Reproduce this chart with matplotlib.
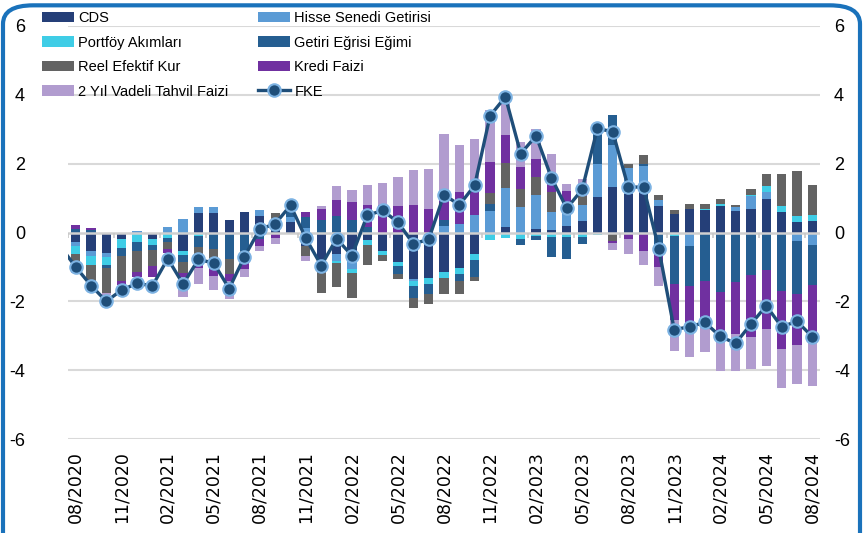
import numpy as np
import matplotlib.pyplot as plt
from matplotlib.patches import FancyBboxPatch

# aylar: 08/2020 - 08/2024
months = ['08/2020', '09/2020', '10/2020', '11/2020', '12/2020', '01/2021', '02/2021', '03/2021',
          '04/2021', '05/2021', '06/2021', '07/2021', '08/2021', '09/2021', '10/2021', '11/2021',
          '12/2021', '01/2022', '02/2022', '03/2022', '04/2022', '05/2022', '06/2022', '07/2022',
          '08/2022', '09/2022', '10/2022', '11/2022', '12/2022', '01/2023', '02/2023', '03/2023',
          '04/2023', '05/2023', '06/2023', '07/2023', '08/2023', '09/2023', '10/2023', '11/2023',
          '12/2023', '01/2024', '02/2024', '03/2024', '04/2024', '05/2024', '06/2024', '07/2024',
          '08/2024']

cds = [-0.28, -0.55, -0.6, -0.2, 0.0, -0.2, 0.0, -0.53, 0.56, 0.56, 0.35, 0.6, 0.48, 0.4, 0.3, -0.38,
       -0.82, -0.62, -0.72, -0.21, -0.54, -0.86, -1.35, -1.32, -1.16, -1.03, -0.62, 0.0, 0.16, 0.0, 0.09, 0.06,
       0.2, 0.32, 1.03, 1.32, 1.13, 1.32, 0.76, 0.54, 0.68, 0.64, 0.78, 0.62, 0.69, 0.98, 0.59, 0.3, 0.33]
hisse = [-0.1, -0.12, -0.1, 0.0, 0.05, 0.0, 0.17, 0.4, 0.17, 0.17, 0.0, 0.0, 0.17, 0.0, 0.15, 0.14,
         0.0, -0.2, -0.35, 0.0, 0.0, 0.0, -0.07, 0.0, 0.2, 0.25, 0.5, 0.63, 1.12, 0.74, 1.01, 0.55,
         0.55, 0.47, 0.97, 1.21, 0.75, 0.61, 0.17, 0.0, -0.38, 0.0, 0.0, 0.12, 0.36, 0.21, 0.0, -0.25, -0.35]
portfoy = [-0.25, -0.27, -0.25, -0.25, -0.28, -0.17, -0.17, -0.12, -0.1, -0.03, -0.04, 0.0, 0.0, 0.0, 0.0, 0.0,
           -0.08, -0.08, -0.1, -0.14, -0.1, -0.12, -0.13, -0.17, -0.17, -0.17, -0.17, -0.21, -0.16, -0.2, -0.1, -0.14,
           -0.14, -0.13, -0.08, 0.0, 0.0, 0.0, -0.05, -0.1, 0.0, 0.03, 0.04, 0.0, 0.03, 0.15, 0.17, 0.17, 0.17]
getiri = [0.1, 0.07, -0.07, -0.22, -0.26, -0.15, -0.12, -0.2, -0.32, -0.45, -0.72, -0.55, -0.2, 0.0, 0.15, 0.31,
          0.35, 0.47, 0.35, 0.16, 0.0, -0.22, -0.36, -0.29, 0.15, -0.2, -0.51, 0.2, 0.0, -0.17, -0.12, -0.58,
          -0.62, -0.2, 1.02, 0.87, 0.0, 0.07, -0.5, -1.4, -1.16, -1.42, -1.72, -1.45, -1.23, -1.09, -1.71, -1.55, -1.17]
reel = [-0.35, -0.55, -0.75, -0.73, -0.6, -0.45, -0.2, -0.32, -0.3, -0.33, -0.45, -0.3, 0.0, 0.18, 0.15, -0.29,
        -0.85, -0.68, -0.73, -0.58, -0.2, -0.15, -0.27, -0.29, -0.47, -0.39, -0.12, 0.32, 0.73, 0.53, 0.5, 0.58,
        0.0, 0.27, 0.0, -0.25, 0.1, 0.24, 0.17, 0.1, 0.15, 0.17, 0.14, 0.05, 0.17, 0.37, 0.94, 1.31, 0.89]
kredi = [0.12, 0.05, 0.0, -0.12, -0.15, -0.32, -0.1, -0.12, -0.3, -0.45, -0.2, -0.2, -0.2, -0.15, 0.0, 0.15,
         0.32, 0.46, 0.53, 0.63, 0.79, 0.76, 0.79, 0.69, 0.58, 0.92, 0.73, 0.89, 0.83, 0.63, 0.53, 0.27,
         0.45, 0.23, 0.0, -0.05, -0.2, -0.55, -0.45, -1.05, -1.2, -1.34, -1.14, -1.5, -1.82, -1.72, -1.68, -1.46, -1.39]
tahvil2y = [-0.2, 0.0, -0.05, 0.0, 0.0, 0.0, 0.0, -0.58, -0.47, -0.42, -0.53, -0.25, -0.15, -0.17, -0.05, -0.15,
            0.1, 0.42, 0.36, 0.6, 0.65, 0.85, 1.02, 1.15, 1.94, 1.36, 1.5, 1.53, 0.97, 0.73, 0.89, 0.83,
            0.22, 0.25, 0.0, -0.2, -0.43, -0.39, -0.55, -0.88, -0.88, -0.7, -1.17, -1.07, -0.92, -1.07, -1.12, -1.13, -1.55]

# FKE (ilk deger 07/2020, grafikte kirpiliyor)
fke = [-0.4, -1.0, -1.54, -2.0, -1.67, -1.48, -1.55, -0.76, -1.5, -0.78, -0.89, -1.63, -0.7, 0.1, 0.25, 0.79,
       -0.17, -0.96, -0.18, -0.67, 0.5, 0.64, 0.3, -0.33, -0.2, 1.1, 0.8, 1.37, 3.39, 3.94, 2.29, 2.81,
       1.59, 0.7, 1.25, 3.03, 2.92, 1.32, 1.32, -0.48, -2.82, -2.74, -2.61, -3.02, -3.22, -2.66, -2.13, -2.74,
       -2.58, -3.03]

series = [('CDS', cds, '#253F78'),
          ('Hisse Senedi Getirisi', hisse, '#5B9BD5'),
          ('Portföy Akımları', portfoy, '#3FCDE6'),
          ('Getiri Eğrisi Eğimi', getiri, '#255E91'),
          ('Reel Efektif Kur', reel, '#636363'),
          ('Kredi Faizi', kredi, '#7030A0'),
          ('2 Yıl Vadeli Tahvil Faizi', tahvil2y, '#B19CCF')]

narrow = ['Liberation Sans', 'DejaVu Sans']

fig = plt.figure(figsize=(8.63, 5.33), dpi=100)
ax = fig.add_axes([68 / 863, 1 - 439 / 533, 752 / 863, 413 / 533])

x = np.arange(len(months))
pos = np.zeros(len(months))
neg = np.zeros(len(months))
bars = {}
for name, vals, col in series:
    v = np.array(vals)
    bottom = np.where(v >= 0, pos, neg)
    bars[name] = ax.bar(x, v, 0.6, bottom=bottom, color=col, label=name, zorder=2)
    pos = pos + np.where(v >= 0, v, 0)
    neg = neg + np.where(v < 0, v, 0)

fke_line, = ax.plot(np.arange(-1, len(months)), fke, color='#1F4E79', lw=2.4, marker='o', ms=9,
                    mfc='#1F4E79', mec='#7DB3E3', mew=1.5, zorder=5, label='FKE')

for yy in [-6, -4, -2, 2, 4, 6]:
    ax.axhline(yy, color='#D9D9D9', lw=1.5, zorder=0)
ax.axhline(0, color='#D0D0D0', lw=1.8, zorder=3)
ax.vlines(np.arange(-0.5, 49, 3), -0.15, 0, color='#C8C8C8', lw=1.2, zorder=3)

ax.set_xlim(-0.5, 48.5)
ax.set_ylim(-6, 6)
ax.set_yticks(range(-6, 7, 2))
ax.set_yticklabels([str(t) for t in range(-6, 7, 2)], family=narrow, fontsize=13)
ax.tick_params(axis='y', length=0, pad=31)
ax.set_xticks(x[::3])
ax.set_xticklabels(months[::3], rotation=90, fontsize=12.5, family='DejaVu Sans')
ax.tick_params(axis='x', length=0, pad=9)
for s in ax.spines.values():
    s.set_visible(False)

ax2 = ax.twinx()
ax2.set_ylim(-6, 6)
ax2.set_yticks(range(-6, 7, 2))
ax2.set_yticklabels([str(t) for t in range(-6, 7, 2)], family=narrow, fontsize=13)
ax2.tick_params(axis='y', length=0, pad=10)
for s in ax2.spines.values():
    s.set_visible(False)

order = ['CDS', 'Portföy Akımları', 'Reel Efektif Kur', '2 Yıl Vadeli Tahvil Faizi',
         'Hisse Senedi Getirisi', 'Getiri Eğrisi Eğimi', 'Kredi Faizi']
handles = [bars[n] for n in order] + [fke_line]
labels = order + ['FKE']
fig.legend(handles, labels, ncol=2, loc='upper left', bbox_to_anchor=(42 / 863, 1 - 11 / 533),
           frameon=False, borderpad=0, borderaxespad=0, handlelength=2.2, handleheight=0.7,
           handletextpad=0.3, columnspacing=2.0, labelspacing=0.72,
           prop={'family': narrow, 'size': 10.5})

frame = FancyBboxPatch((3 / 863, -0.1), 857 / 863, 1.09, boxstyle='round,pad=0,rounding_size=0.035',
                       transform=fig.transFigure, fill=False, edgecolor='#1A72BB', lw=3, zorder=10)
fig.patches.append(frame)

fig.savefig('out.png', dpi=100)
